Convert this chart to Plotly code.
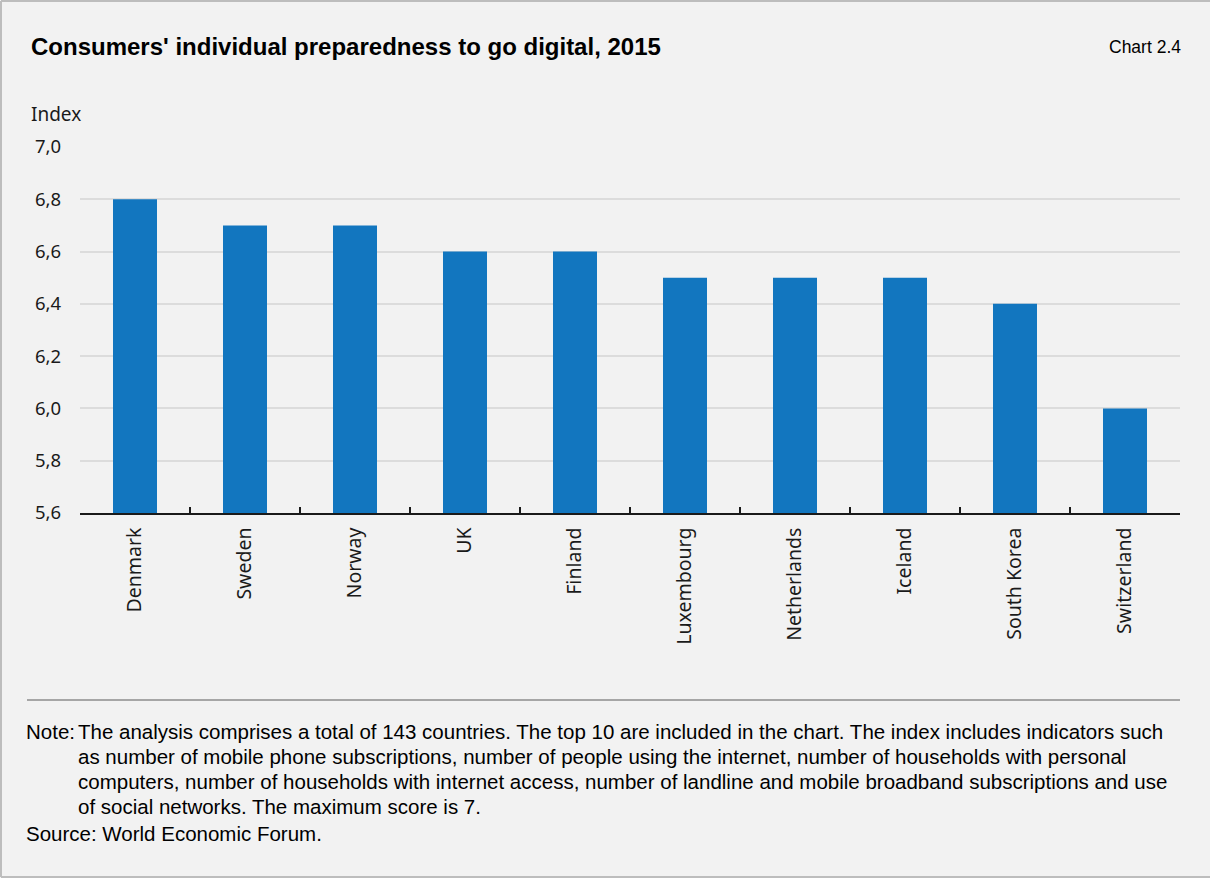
import plotly.graph_objects as go

countries = ["Denmark", "Sweden", "Norway", "UK", "Finland", "Luxembourg",
             "Netherlands", "Iceland", "South Korea", "Switzerland"]
values = [6.8, 6.7, 6.7, 6.6, 6.6, 6.5, 6.5, 6.5, 6.4, 6.0]
y_ticks = [5.6, 5.8, 6.0, 6.2, 6.4, 6.6, 6.8, 7.0]

W, H = 1210, 878
L, R, T, B = 80, 1180, 147, 513

def px(x):
    return (x - L) / (R - L)

def py(y):
    return (B - y) / (B - T)

fig = go.Figure(go.Bar(x=countries, y=values, marker_color="#1276bf",
                       marker_line_width=0, width=0.4))

fig.update_layout(
    width=W, height=H,
    paper_bgcolor="#f2f2f2", plot_bgcolor="#f2f2f2",
    margin=dict(l=L, r=W - R, t=T, b=H - B, pad=0),
    separators=",.",
    showlegend=False,
    font=dict(family="Noto Sans", color="#1a1a1a", size=16),
)
fig.update_yaxes(range=[5.6, 7.0], tickvals=y_ticks, tickformat=".1f",
                 showgrid=True, gridcolor="#dcdcdc", gridwidth=1.5,
                 zeroline=False, showline=False, ticks="",
                 ticklabelstandoff=18,
                 tickfont=dict(family="Noto Sans", size=18.5, color="#1a1a1a"))
fig.update_xaxes(type="category", tickson="boundaries", ticks="inside",
                 ticklen=6, tickcolor="#1a1a1a", tickwidth=1.5,
                 showline=True, linecolor="#1a1a1a", linewidth=1.5,
                 showgrid=False, tickangle=-90, ticklabelstandoff=5,
                 tickfont=dict(family="Noto Sans", size=19.5, color="#1a1a1a"))

ann = []
ann.append(dict(text="<b>Consumers' individual preparedness to go digital, 2015</b>",
                x=px(29), y=py(47), xanchor="left", yanchor="middle",
                font=dict(family="Liberation Sans", size=24, color="#000")))
ann.append(dict(text="Chart 2.4", x=px(1183), y=py(47), xanchor="right", yanchor="middle",
                font=dict(family="Liberation Sans", size=17.5, color="#000")))
ann.append(dict(text="Index", x=px(29), y=py(114), xanchor="left", yanchor="middle",
                font=dict(family="Noto Sans", size=19, color="#1a1a1a")))

note_lines = [
    "The analysis comprises a total of 143 countries. The top 10 are included in the chart. The index includes indicators such",
    "as number of mobile phone subscriptions, number of people using the internet, number of households with personal",
    "computers, number of households with internet access, number of landline and mobile broadband subscriptions and use",
    "of social networks. The maximum score is 7.",
]
ys = [731, 756, 781, 806]
note_font = dict(family="Liberation Sans", size=20.5, color="#000")
ann.append(dict(text="Note:", x=px(24), y=py(731), xanchor="left", yanchor="middle",
                font=note_font))
for t, yy in zip(note_lines, ys):
    ann.append(dict(text=t, x=px(76), y=py(yy), xanchor="left", yanchor="middle",
                    font=note_font))
ann.append(dict(text="Source: World Economic Forum.", x=px(24), y=py(833),
                xanchor="left", yanchor="middle", font=note_font))
for a in ann:
    a.update(xref="paper", yref="paper", showarrow=False)
fig.update_layout(annotations=ann)

shapes = [
    dict(type="line", x0=px(27), x1=px(1180), y0=py(700), y1=py(700),
         line=dict(color="#a6a6a6", width=2)),
    dict(type="line", x0=px(1), x1=px(1), y0=py(1), y1=py(877),
         line=dict(color="#bdbdbd", width=2)),
    dict(type="line", x0=px(1), x1=px(1212), y0=py(1), y1=py(1),
         line=dict(color="#bdbdbd", width=2)),
    dict(type="line", x0=px(1), x1=px(1212), y0=py(877), y1=py(877),
         line=dict(color="#bdbdbd", width=2)),
]
for s in shapes:
    s.update(xref="paper", yref="paper", layer="above")
fig.update_layout(shapes=shapes)

fig.write_html("out.html", config={"displayModeBar": False},
               post_script="document.body.style.margin='0';document.body.style.overflow='hidden';"
                           "document.body.style.background='#f2f2f2';")
